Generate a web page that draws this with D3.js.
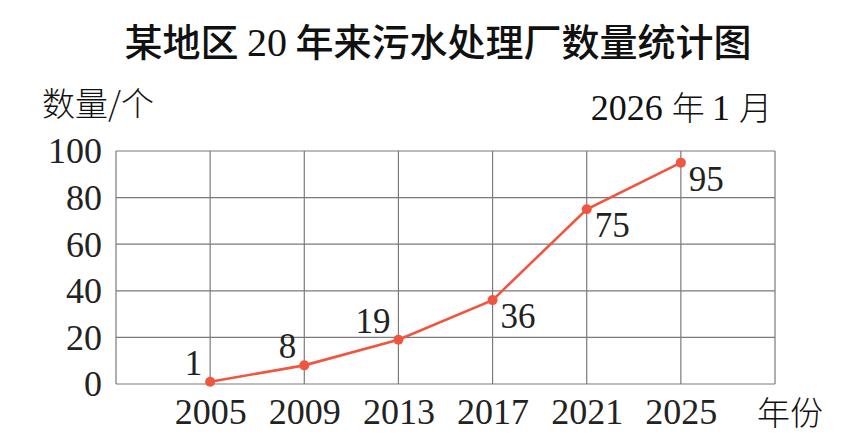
<html>
<head>
<script src="https://cdn.jsdelivr.net/npm/d3@7"></script>
</head>
<body style="margin:0;background:#fff">
<div id="chart"></div>
<script>
var years = [2005, 2009, 2013, 2017, 2021, 2025];
var counts = [1, 8, 19, 36, 75, 95];
var yTicks = [0, 20, 40, 60, 80, 100];
// which side of the point each value label sits on
var labelSide = ['up', 'up', 'up', 'down', 'down', 'down'];

var CJK = '"Noto Sans CJK SC", sans-serif';
var SERIF = ['"Liberation', 'Serif"'].join(' ') + ', ' + ['"Noto', 'Serif', 'CJK', 'SC"'].join(' ') + ', serif';

function font(sel, family, size) {
    sel.style('font-family', family, 'important')
       .style('font-size', size + 'px');
}

var W = 844, H = 441;
var svg = d3.select('#chart').append('svg')
    .attr('width', W)
    .attr('height', H)
    .style('display', 'block');

var x = d3.scaleLinear().domain([2001, 2029]).range([116, 775]);
var y = d3.scaleLinear().domain([0, 100]).range([384, 151]);

var red = '#f2553f';
var gridColor = '#7a7a7a';

// grid
var grid = svg.append('g');
grid.selectAll('line.h')
    .data(yTicks)
  .enter().append('line')
    .attr('x1', x(2001)).attr('x2', x(2029))
    .attr('y1', function(d) { return y(d); })
    .attr('y2', function(d) { return y(d); })
    .attr('stroke', gridColor).attr('stroke-width', 1.2);
grid.selectAll('line.v')
    .data([2001].concat(years, [2029]))
  .enter().append('line')
    .attr('y1', y(0)).attr('y2', y(100))
    .attr('x1', function(d) { return x(d); })
    .attr('x2', function(d) { return x(d); })
    .attr('stroke', gridColor).attr('stroke-width', 1.2);

// y axis labels
var yAxis = d3.axisLeft(y).tickValues(yTicks).tickSize(0).tickPadding(14);
svg.append('g')
    .attr('transform', 'translate(' + x(2001) + ',0)')
    .call(yAxis)
    .call(function(g) { g.select('.domain').remove(); })
    .selectAll('text')
    .call(font, SERIF, 36)
    .attr('fill', '#222')
    .attr('dy', '0.33em');

// x axis labels
var xAxis = d3.axisBottom(x).tickValues(years).tickSize(0).tickPadding(16)
    .tickFormat(d3.format('d'));
svg.append('g')
    .attr('transform', 'translate(0,' + y(0) + ')')
    .call(xAxis)
    .call(function(g) { g.select('.domain').remove(); })
    .selectAll('text')
    .call(font, SERIF, 36)
    .attr('fill', '#222')
    .attr('dy', '0.68em');

// line
var line = d3.line()
    .x(function(d, i) { return x(years[i]); })
    .y(function(d) { return y(d); });
svg.append('path')
    .datum(counts)
    .attr('d', line)
    .attr('fill', 'none')
    .attr('stroke', red)
    .attr('stroke-width', 2.6);

svg.selectAll('circle.pt')
    .data(counts)
  .enter().append('circle')
    .attr('cx', function(d, i) { return x(years[i]); })
    .attr('cy', function(d) { return y(d); })
    .attr('r', 5)
    .attr('fill', red);

// value labels
svg.selectAll('text.val')
    .data(counts)
  .enter().append('text')
    .call(font, SERIF, 35)
    .attr('fill', '#222')
    .attr('x', function(d, i) { return x(years[i]) + (labelSide[i] === 'up' ? -8 : 8); })
    .attr('y', function(d) { return y(d); })
    .attr('dy', function(d, i) { return labelSide[i] === 'up' ? -7 : 28; })
    .attr('text-anchor', function(d, i) { return labelSide[i] === 'up' ? 'end' : 'start'; })
    .text(function(d) { return d; });

// title
var title = svg.append('text')
    .attr('x', 438).attr('y', 56)
    .attr('text-anchor', 'middle')
    .attr('fill', '#111');
title.append('tspan').call(font, CJK, 38).attr('font-weight', 500).text('某地区 ');
title.append('tspan').call(font, SERIF, 40).text('20');
title.append('tspan').call(font, CJK, 38).attr('font-weight', 500).text(' 年来污水处理厂数量统计图');

// y unit
svg.append('text')
    .call(font, CJK, 33)
    .attr('font-weight', 300)
    .attr('x', 42).attr('y', 116)
    .attr('fill', '#111')
    .text('数量/个');

// date
var date = svg.append('text')
    .attr('x', 772).attr('y', 120)
    .attr('text-anchor', 'end')
    .attr('fill', '#111');
date.append('tspan').call(font, SERIF, 36).text('2026 ');
date.append('tspan').call(font, CJK, 33).attr('font-weight', 300).text('年 ');
date.append('tspan').call(font, SERIF, 36).text('1 ');
date.append('tspan').call(font, CJK, 33).attr('font-weight', 300).text('月');

// x unit
svg.append('text')
    .call(font, CJK, 33)
    .attr('font-weight', 300)
    .attr('x', 757).attr('y', 425)
    .attr('fill', '#111')
    .text('年份');
</script>
</body>
</html>
